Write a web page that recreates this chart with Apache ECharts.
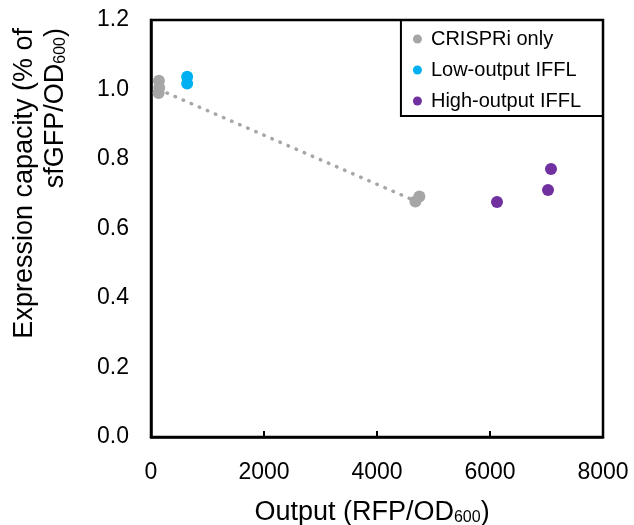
<!DOCTYPE html>
<html>
<head>
<meta charset="utf-8">
<script src="https://cdn.jsdelivr.net/npm/echarts@6/dist/echarts.min.js"></script>
<style>html,body{margin:0;padding:0;background:#fff;}#c{width:634px;height:525px;}</style>
</head>
<body>
<div id="c"></div>
<script>
// Data
const seriesNames = ['CRISPRi only', 'Low-output IFFL', 'High-output IFFL'];
const crispriOnly = [[140, 1.025], [145, 1.005], [135, 0.99], [4680, 0.678], [4750, 0.692]];
const lowOutput = [[640, 1.037], [640, 1.017]];
const highOutput = [[6124, 0.676], [7027, 0.711], [7080, 0.771]];
const trendLine = [[140, 1.0], [4710, 0.677]];
const xTicks = [0, 2000, 4000, 6000, 8000];
const yTicks = [0.0, 0.2, 0.4, 0.6, 0.8, 1.0, 1.2];

const FONT = '"Liberation Sans", Arial, Helvetica, sans-serif';
const chart = echarts.init(document.getElementById('c'), null, {renderer: 'canvas'});
chart.setOption({
  animation: false,
  backgroundColor: '#fff',
  textStyle: {fontFamily: FONT, color: '#000'},
  grid: {left: 151, top: 20, right: 31, bottom: 88, containLabel: false, outerBoundsMode: 'none',
    show: true, borderColor: '#000', borderWidth: 2.5, backgroundColor: 'transparent'},
  legend: {
    data: seriesNames,
    orient: 'vertical',
    right: 31, top: 20,
    borderColor: '#000', borderWidth: 2,
    padding: [9, 22, 5, 12],
    itemGap: 11,
    itemWidth: 9, itemHeight: 9,
    icon: 'circle',
    textStyle: {fontFamily: FONT, fontSize: 20, color: '#000', padding: [0, 0, 0, 4]}
  },
  xAxis: {
    type: 'value',
    min: xTicks[0], max: xTicks[xTicks.length - 1], interval: 2000,
    axisLine: {show: true, onZero: false, lineStyle: {color: '#000', width: 2.5}},
    axisTick: {show: true, inside: true, length: 6, lineStyle: {color: '#000', width: 2}},
    axisLabel: {fontFamily: FONT, fontSize: 23, color: '#000', margin: 24, formatter: v => String(v)},
    splitLine: {show: false},
    name: 'Output (RFP/OD{sub|600})',
    nameLocation: 'middle',
    nameGap: 62,
    nameTextStyle: {fontFamily: FONT, fontSize: 27, color: '#000', padding: [0, 10, 0, 0],
      rich: {sub: {fontFamily: FONT, fontSize: 16, color: '#000', padding: [11, 0, 0, 0]}}}
  },
  yAxis: {
    type: 'value',
    min: yTicks[0], max: yTicks[yTicks.length - 1], interval: 0.2,
    axisLine: {show: true, onZero: false, lineStyle: {color: '#000', width: 2.5}},
    axisTick: {show: false},
    axisLabel: {fontFamily: FONT, fontSize: 23, color: '#000', margin: 22, formatter: v => v.toFixed(1)},
    splitLine: {show: false}
  },
  graphic: [{
    type: 'text',
    x: 40, y: 28,
    rotation: Math.PI / 2,
    style: {
      text: 'Expression capacity (% of\nsfGFP/OD{sub|600})',
      fontFamily: FONT, fontSize: 27, fill: '#000',
      align: 'right', verticalAlign: 'middle', lineHeight: 31,
      rich: {sub: {fontFamily: FONT, fontSize: 16, fill: '#000', padding: [11, 0, 0, 0]}}
    }
  }],
  series: [
    {
      type: 'line', data: trendLine, symbol: 'none', silent: true, z: 1,
      lineStyle: {color: '#a6a6a6', width: 3.5, type: [0.5, 8.3], cap: 'round'}
    },
    {name: seriesNames[0], type: 'scatter', data: crispriOnly, symbolSize: 12, itemStyle: {color: '#a6a6a6', opacity: 1}, z: 3},
    {name: seriesNames[1], type: 'scatter', data: lowOutput, symbolSize: 12, itemStyle: {color: '#00b0f0', opacity: 1}, z: 3},
    {name: seriesNames[2], type: 'scatter', data: highOutput, symbolSize: 12, itemStyle: {color: '#7030a0', opacity: 1}, z: 3}
  ]
});
</script>
</body>
</html>
